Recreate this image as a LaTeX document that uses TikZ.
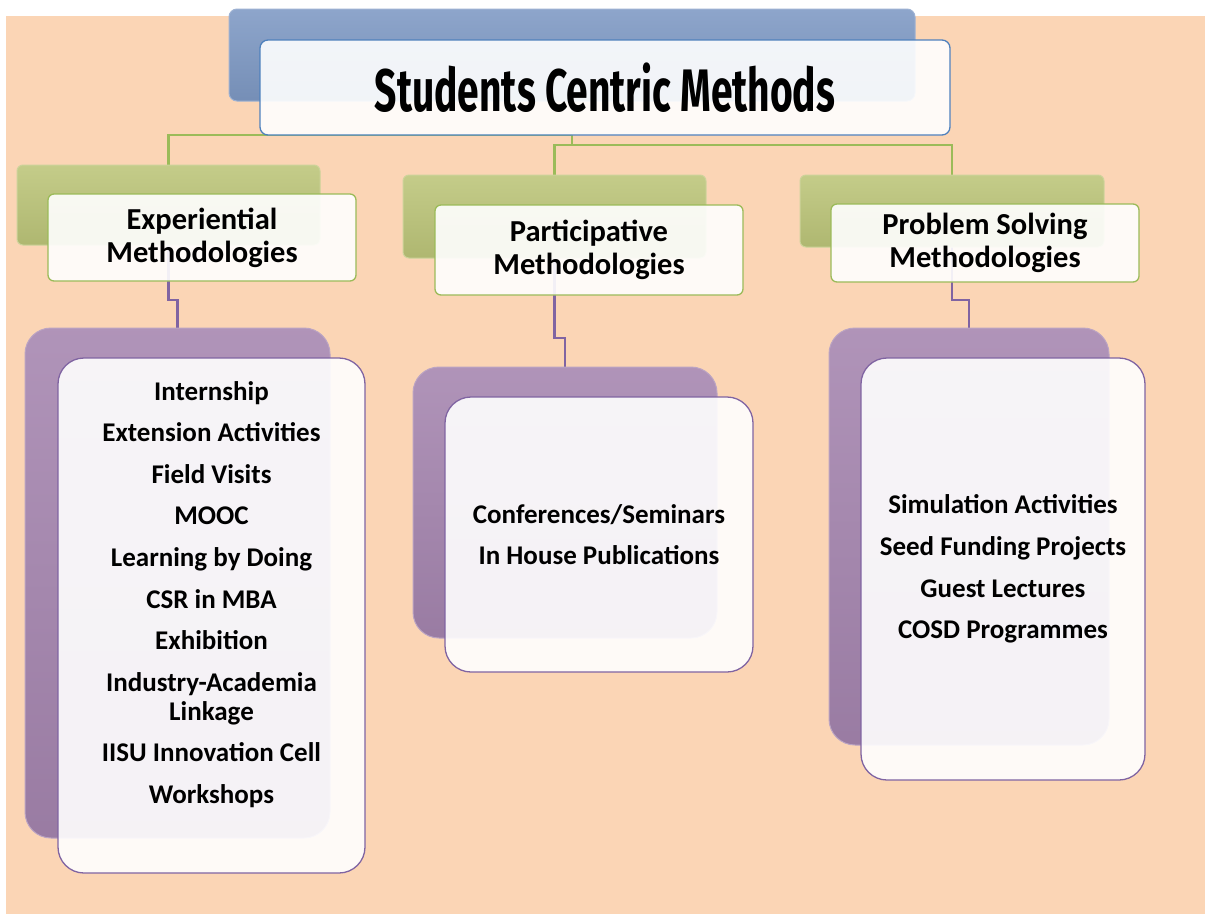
\documentclass[tikz,border=0pt]{standalone}
\usepackage{fontspec}
\setmainfont{Carlito}
\newfontfamily\titlefont[FakeStretch=0.65]{Fira Sans}

\definecolor{peach}{RGB}{251,213,181}
\definecolor{blueBack}{RGB}{126,153,196}
\definecolor{blueEdge}{RGB}{79,129,189}
\definecolor{greenBack}{RGB}{188,197,121}
\definecolor{greenEdge}{RGB}{155,187,89}
\definecolor{purpleBack}{RGB}{165,133,175}
\definecolor{purpleEdge}{RGB}{128,100,162}

\pgfdeclarelayer{bg}
\pgfdeclarelayer{lines}
\pgfsetlayers{bg,lines,main}

\tikzset{
  backbox/.style={draw=#1!75!white, line width=1pt, top color=#1!88!white,
    middle color=#1, bottom color=#1!93!black, inner sep=0pt},
  frontbox/.style={draw=#1, line width=1.3pt, fill=white, fill opacity=0.9,
    text opacity=1, inner sep=0pt, align=center},
  greenline/.style={draw=greenEdge, line width=2.5pt},
  purpleline/.style={draw=purpleEdge, line width=2.8pt},
  headtext/.style={font=\fontsize{30.5}{33}\selectfont\bfseries},
  listtext/.style={align=center, font=\fontsize{27}{29}\selectfont\bfseries}
}

\begin{document}
\begin{tikzpicture}[x=1pt, y=-1pt]
\useasboundingbox (0,0) rectangle (1205,914);
\begin{pgfonlayer}{bg}
  \fill[white] (0,0) rectangle (1205,914);
  \fill[peach] (6,16) rectangle (1205,914);
\end{pgfonlayer}

% title
\node[backbox=blueBack, rounded corners=8pt, minimum width=686pt, minimum height=92pt] (blueB) at (572,55) {};
\node[frontbox=blueEdge, rounded corners=8pt, minimum width=690pt, minimum height=95pt,
  font=\titlefont\bfseries\fontsize{60}{62}\selectfont] (title) at (605,87.5) {Students Centric Methods};

% methodologies
\node[backbox=greenBack, rounded corners=6pt, minimum width=303pt, minimum height=80pt] (expB) at (168.5,205) {};
\node[frontbox=greenEdge, rounded corners=6pt, minimum width=308pt, minimum height=87pt, headtext] (exp) at (202,237.5) {Experiential\\Methodologies};

\node[backbox=greenBack, rounded corners=6pt, minimum width=303pt, minimum height=83pt] (parB) at (554.5,216.5) {};
\node[frontbox=greenEdge, rounded corners=6pt, minimum width=308pt, minimum height=90pt, headtext] (par) at (589,250) {Participative\\Methodologies};

\node[backbox=greenBack, rounded corners=6pt, minimum width=304pt, minimum height=72pt] (probB) at (952,211) {};
\node[frontbox=greenEdge, rounded corners=6pt, minimum width=308pt, minimum height=78pt, headtext] (prob) at (985,243) {Problem Solving\\Methodologies};

% lists
\node[backbox=purpleBack, rounded corners=26pt, minimum width=305pt, minimum height=510pt] (expListB) at (177.5,583) {};
\node[frontbox=purpleEdge, rounded corners=26pt, minimum width=307pt, minimum height=515pt] (expList) at (211.5,615.5) {};
\node[listtext] (expItems) at (211.5,594.5) {Internship\\[12.6pt]Extension Activities\\[12.6pt]Field Visits\\[12.6pt]MOOC\\[12.6pt]Learning by Doing\\[12.6pt]CSR in MBA\\[12.6pt]Exhibition\\[12.6pt]Industry-Academia\\Linkage\\[12.6pt]IISU Innovation Cell\\[12.6pt]Workshops};

\node[backbox=purpleBack, rounded corners=26pt, minimum width=304pt, minimum height=271pt] (parListB) at (565,502.5) {};
\node[frontbox=purpleEdge, rounded corners=26pt, minimum width=308pt, minimum height=275pt, listtext] (parList) at (599,534.5) {Conferences/Seminars\\[12.6pt]In House Publications};

\node[backbox=purpleBack, rounded corners=26pt, minimum width=280pt, minimum height=417pt] (probListB) at (969,536.5) {};
\node[frontbox=purpleEdge, rounded corners=26pt, minimum width=284pt, minimum height=422pt, listtext] (probList) at (1003,569) {Simulation Activities\\[12.6pt]Seed Funding Projects\\[12.6pt]Guest Lectures\\[12.6pt]COSD Programmes};

% connectors
\begin{pgfonlayer}{lines}
  \coordinate (tap) at (572,135);
  \coordinate (bus) at (572,145);
  \draw[greenline] (tap) -| (expB.north);
  \draw[greenline] (tap) -- (bus) -| (parB.north);
  \draw[greenline] (bus) -| (probB.north);
  \draw[purpleline] (expB.center) -- (expB.center |- 0,300) -| (expListB.north);
  \draw[purpleline] (parB.center) -- (parB.center |- 0,338) -| (parListB.north);
  \draw[purpleline] (probB.center) -- (probB.center |- 0,300) -| (probListB.north);
\end{pgfonlayer}
\end{tikzpicture}
\end{document}
